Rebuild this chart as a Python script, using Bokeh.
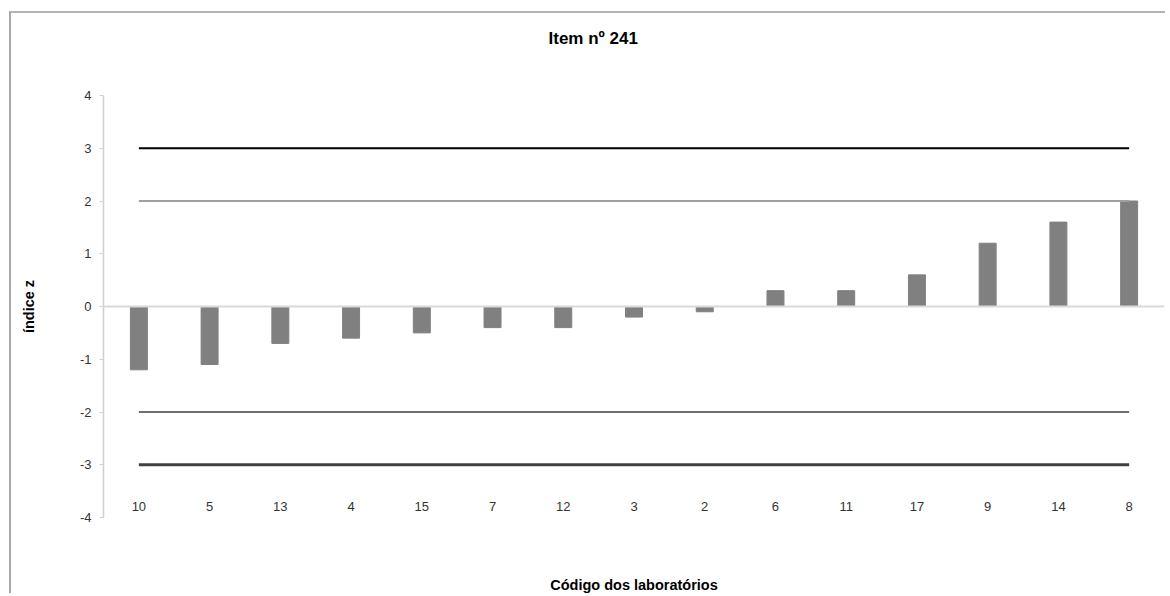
from bokeh.plotting import figure
from bokeh.models import Range1d, FactorRange, Span, FixedTicker, Title
from bokeh.embed import file_html
from bokeh.resources import INLINE

# Data
labs = ["10", "5", "13", "4", "15", "7", "12", "3", "2", "6", "11", "17", "9", "14", "8"]
z_values = [-1.2, -1.1, -0.7, -0.6, -0.5, -0.4, -0.4, -0.2, -0.1, 0.3, 0.3, 0.6, 1.2, 1.6, 2.0]
limit_values = [3, 2, -2, -3]
limit_colors = ["#000000", "#a0a0a0", "#404040", "#404040"]
limit_widths = [2.2, 2.2, 1.6, 3.2]
y_ticks = [-4, -3, -2, -1, 0, 1, 2, 3, 4]
y_tick_labels = ["-4", "-3", "-2", "-1", "0", "1", "2", "3", "4"]
title_text = "Item nº 241"

FONT = "Liberation Sans"

p = figure(
    width=1156, height=582,
    x_range=FactorRange(*labs, range_padding=0),
    y_range=Range1d(-4, 4),
    output_backend="svg", toolbar_location=None,
    min_border_left=92, min_border_right=3, min_border_top=82, min_border_bottom=72,
)
p.margin = (11, 0, 0, 9)
p.styles = {"border-left": "2px solid #a8a8a8", "border-top": "2px solid #b4b4b4"}

# spacer (inner) + real title (outer)
p.add_layout(Title(text=" ", text_font=FONT, text_font_size="12px", standoff=27), "above")
p.add_layout(Title(text=title_text, align="left", offset=445, standoff=10,
                   text_font=FONT, text_font_size="17px", text_font_style="bold",
                   text_color="#000000"), "above")

p.outline_line_color = None
p.xgrid.visible = False
p.ygrid.visible = False
p.background_fill_color = "white"
p.border_fill_color = "white"

# zero axis line
p.add_layout(Span(location=0, dimension="width", line_color="#d9d9d9", line_width=2))

# bars
p.vbar(x=labs, top=z_values, bottom=0, width=0.24, fill_color="#808080", line_color="#808080")

# limit lines
for v, c, w in zip(limit_values, limit_colors, limit_widths):
    p.line(x=[labs[0], labs[-1]], y=[v, v], line_color=c, line_width=w)

# y axis
yax = p.yaxis[0]
yax.ticker = FixedTicker(ticks=y_ticks)
yax.major_label_overrides = {t: s for t, s in zip(y_ticks, y_tick_labels)}
yax.axis_line_color = "#d0d0d0"
yax.axis_line_width = 1.5
yax.major_tick_line_color = "#d0d0d0"
yax.major_tick_out = 4
yax.major_tick_in = 0
yax.minor_tick_line_color = None
yax.major_label_text_font = FONT
yax.major_label_text_font_size = "13px"
yax.major_label_text_color = "#333333"
yax.major_label_standoff = 8
yax.axis_label = "índice z"
yax.axis_label_text_font = FONT
yax.axis_label_text_font_size = "14.5px"
yax.axis_label_text_font_style = "bold"
yax.axis_label_text_color = "#000000"
yax.axis_label_standoff = 40

# x axis
xax = p.xaxis[0]
xax.axis_line_color = None
xax.major_tick_line_color = None
xax.minor_tick_line_color = None
xax.major_label_text_font = FONT
xax.major_label_text_font_size = "13px"
xax.major_label_text_color = "#333333"
xax.major_label_standoff = -22
xax.axis_label = "Código dos laboratórios"
xax.axis_label_text_font = FONT
xax.axis_label_text_font_size = "14.5px"
xax.axis_label_text_font_style = "bold"
xax.axis_label_text_color = "#000000"
xax.axis_label_standoff = 63

open("out.html", "w").write(file_html(p, INLINE))
